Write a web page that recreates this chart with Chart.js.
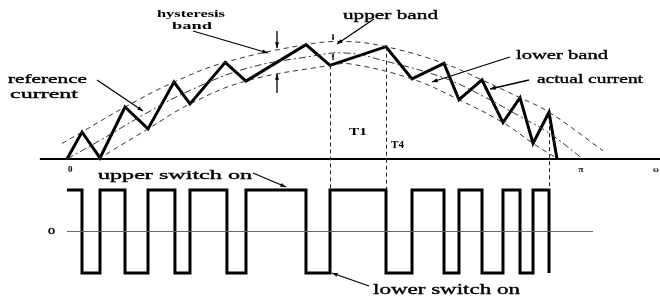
<!DOCTYPE html>
<html>
<head>
<meta charset="utf-8">
<script src="https://cdn.jsdelivr.net/npm/chart.js@4/dist/chart.umd.min.js"></script>
<style>
html,body{margin:0;padding:0;background:#fff;overflow:hidden;}
canvas{display:block;}
</style>
</head>
<body>
<canvas id="c" width="660" height="299"></canvas>
<script>
// ---- data (angle ωt in degrees, current in per-unit of reference peak) ----
const currentAngles = [0, 5.25, 11.56, 20.31, 28.37, 37.47, 43.07, 55.4, 62.68, 83.69, 92.10, 111.71, 120.82, 132.02, 137.27, 145.33, 152.68, 158.64, 163.19, 168.79, 171.59];
const actualCurrent = [0, 0.26, 0.01, 0.50, 0.29, 0.74, 0.53, 0.93, 0.75, 1.10, 0.90, 1.08, 0.77, 0.92, 0.57, 0.76, 0.35, 0.59, 0.15, 0.45, 0];

const upperAngles = [-1.75, 5.25, 20.3, 37.5, 55.4, 83.7, 97.4, 111.7, 132.0, 145.3, 158.6, 168.8, 187.7];
const upperBand   = [0.15, 0.26, 0.50, 0.74, 0.93, 1.10, 1.13, 1.08, 0.92, 0.76, 0.59, 0.45, 0.08];

const lowerAngles = [10.9, 28.4, 43.1, 62.7, 92.1, 99.0, 120.8, 137.3, 152.7, 163.2, 171.9];
const lowerBand   = [0, 0.29, 0.53, 0.75, 0.90, 0.915, 0.77, 0.57, 0.35, 0.15, 0];

const referenceAngles = [0, 11.6, 28.4, 43.1, 62.7, 83.7, 97.4, 111.7, 132.0, 145.3, 158.6, 168.8, 180.7];
const referenceCurrent = [0, 0.18, 0.45, 0.66, 0.87, 0.98, 1.02, 0.94, 0.78, 0.61, 0.41, 0.25, 0];

const switchAngles = [0, 5.25, 11.56, 20.31, 28.37, 37.8, 43.07, 56.0, 62.68, 83.69, 92.10, 111.71, 120.82, 132.02, 137.27, 145.33, 152.68, 158.64, 163.19, 168.79];
const switchState  = [1, -1, 1, -1, 1, -1, 1, -1, 1, -1, 1, -1, 1, -1, 1, -1, 1, -1, 1, -1];

const guideAngles = [92.10, 111.71, 168.79];
const axisRange = [-9.5, 207.7];
const switchZeroRange = [0, 184.2];
const tickLabels = [{v: 0, t: '0'}, {v: 180, t: 'π'}];

const pts = (xs, ys) => xs.map((x, i) => ({x: x, y: ys[i]}));

const annotations = {
  id: 'annotations',
  afterDatasetsDraw(chart) {
    const ctx = chart.ctx;
    const sx = chart.scales.x, sy = chart.scales.y, ss = chart.scales.ys;
    ctx.save();
    // vertical guide lines
    ctx.strokeStyle = '#222';
    ctx.lineWidth = 1;
    ctx.setLineDash([4, 3]);
    guideAngles.forEach(g => {
      let best = 0;
      currentAngles.forEach((a, i) => { if (Math.abs(a - g) < Math.abs(currentAngles[best] - g)) best = i; });
      const px = Math.round(sx.getPixelForValue(g)) + 0.5;
      ctx.beginPath();
      ctx.moveTo(px, sy.getPixelForValue(actualCurrent[best]));
      ctx.lineTo(px, ss.getPixelForValue(1));
      ctx.stroke();
    });
    ctx.setLineDash([]);

    // text
    const txt = (s, x, y, w, size, bold, align) => {
      ctx.font = (bold ? 'bold ' : '') + size + 'px "Liberation Serif"';
      ctx.fillStyle = '#000';
      ctx.strokeStyle = '#000';
      ctx.lineWidth = bold ? 0 : 0.35;
      ctx.textBaseline = 'alphabetic';
      ctx.textAlign = 'left';
      const m = ctx.measureText(s).width;
      const k = w ? w / m : 1;
      let x0 = x;
      if (align === 'center') x0 = x - m * k / 2;
      ctx.save();
      ctx.translate(x0, y);
      ctx.scale(k, 1);
      ctx.fillText(s, 0, 0);
      if (!bold) ctx.strokeText(s, 0, 0);
      ctx.restore();
    };
    txt('hysteresis', 157, 17, 68, 11, true);
    txt('band', 172, 29, 40, 11, true);
    txt('reference', 8, 83, 79, 13, false);
    txt('current', 10, 98, 68, 13, false);
    txt('upper band', 343, 19, 95, 13, false);
    txt('lower band', 516, 59, 92, 13, false);
    txt('actual current', 537, 83, 106, 13, false);
    txt('T1', 349, 135, 18, 11, true);
    txt('T4', 391, 148, 13, 10, true);
    txt('upper switch on', 98, 179, 154, 13, false);
    txt('lower switch on', 373, 294, 147, 14, false);
    txt('0', 48, 234, 7, 9, false);
    tickLabels.forEach(t => {
      const px = sx.getPixelForValue(t.v);
      if (t.v === 0) txt(t.t, px + 1, 172, 0, 9, true);
      else txt(t.t, px, 172, 0, 9, true, 'center');
    });
    txt('ω', 653, 172, 0, 8, true);

    // arrows
    const arrow = (x1, y1, x2, y2, head) => {
      ctx.strokeStyle = '#000';
      ctx.fillStyle = '#000';
      ctx.lineWidth = 1.3;
      ctx.beginPath();
      ctx.moveTo(x1, y1);
      ctx.lineTo(x2, y2);
      ctx.stroke();
      const a = Math.atan2(y2 - y1, x2 - x1);
      const h = head || 6;
      ctx.beginPath();
      ctx.moveTo(x2, y2);
      ctx.lineTo(x2 - h * Math.cos(a - 0.35), y2 - h * Math.sin(a - 0.35));
      ctx.lineTo(x2 - h * Math.cos(a + 0.35), y2 - h * Math.sin(a + 0.35));
      ctx.closePath();
      ctx.fill();
    };
    arrow(97, 80, 143, 111);
    arrow(193, 31, 268, 53);
    arrow(277, 31, 277, 48);
    arrow(277, 93, 277, 74);
    arrow(374, 19, 337, 44);
    arrow(510, 57, 432, 82);
    arrow(529, 80, 490, 89);
    arrow(253, 173, 286, 187);
    arrow(369, 286, 332, 273);
    arrow(333, 34, 333, 40, 3);
    arrow(333, 60, 333, 54, 3);
    ctx.restore();
  }
};

new Chart(document.getElementById('c'), {
  type: 'line',
  data: {
    datasets: [
      {data: pts(upperAngles, upperBand), yAxisID: 'y', borderColor: '#333', borderWidth: 1, borderDash: [5, 4], tension: 0.4},
      {data: pts(lowerAngles, lowerBand), yAxisID: 'y', borderColor: '#333', borderWidth: 1, borderDash: [5, 4], tension: 0.4},
      {data: pts(referenceAngles, referenceCurrent), yAxisID: 'y', borderColor: '#333', borderWidth: 1, borderDash: [7, 3, 2, 3], tension: 0.4},
      {data: pts(axisRange, [0, 0]), yAxisID: 'y', borderColor: '#000', borderWidth: 2},
      {data: pts(currentAngles, actualCurrent), yAxisID: 'y', borderColor: '#000', borderWidth: 3, borderJoinStyle: 'miter'},
      {data: pts(switchZeroRange, [0, 0]), yAxisID: 'ys', borderColor: '#666', borderWidth: 1},
      {data: pts(switchAngles, switchState), yAxisID: 'ys', borderColor: '#000', borderWidth: 3, stepped: 'before', borderJoinStyle: 'miter'}
    ]
  },
  options: {
    responsive: false,
    animation: false,
    events: [],
    layout: {padding: 0},
    elements: {point: {radius: 0}, line: {tension: 0}},
    plugins: {legend: {display: false}, tooltip: {enabled: false}},
    scales: {
      x: {type: 'linear', min: -23.46, max: 207.66, display: false},
      y: {type: 'linear', min: -1.346, max: 1.529, display: false},
      ys: {type: 'linear', min: -1.627, max: 5.578, display: false}
    }
  },
  plugins: [annotations]
});
</script>
</body>
</html>
